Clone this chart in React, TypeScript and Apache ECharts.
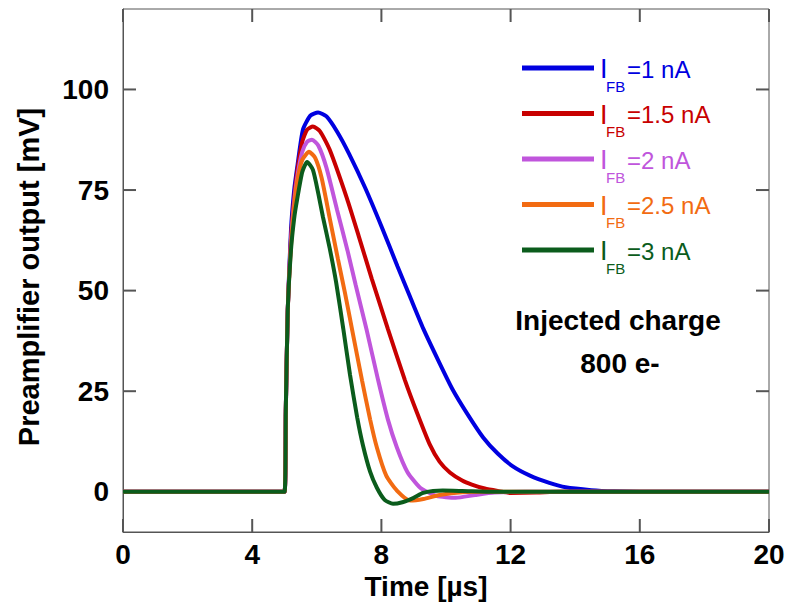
import React, { useEffect, useRef } from "react";
import * as echarts from "echarts";

// Time [µs], output [mV] pairs
const ifb1: [number, number][] = [
  [0, 0], [5.0, 0], [5.04, 20], [5.1, 45], [5.2, 65], [5.3, 75], [5.4, 81], [5.57, 90], [5.8, 93.5],
  [6.04, 94.3], [6.3, 93.3], [6.63, 89.5], [7.0, 84], [7.5, 75.5], [8.0, 66], [8.5, 56], [8.89, 48.4],
  [9.3, 40.5], [9.8, 32], [10.2, 25.5], [10.65, 19.5], [11.15, 13.5], [11.6, 9.5], [12.07, 6.3],
  [12.6, 4], [13.2, 2.2], [13.7, 1.1], [14.5, 0.4], [15.2, 0.1], [16, 0], [20, 0],
];
const ifb15: [number, number][] = [
  [0, 0], [5.0, 0], [5.04, 20], [5.1, 45], [5.2, 63], [5.3, 73], [5.4, 80], [5.55, 87], [5.7, 90],
  [5.88, 90.8], [6.1, 89.6], [6.4, 85], [6.93, 73], [7.3, 63.5], [7.7, 53], [8.2, 40.5], [8.73, 27.7],
  [9.1, 19.7], [9.5, 11.7], [9.8, 7.5], [10.12, 4.8], [10.5, 2.8], [10.8, 1.8], [11.2, 0.8],
  [11.6, 0.2], [12, -0.3], [12.8, -0.2], [13.5, 0], [20, 0],
];
const ifb2: [number, number][] = [
  [0, 0], [5.0, 0], [5.04, 20], [5.1, 45], [5.2, 62], [5.3, 72], [5.4, 78.5], [5.55, 84.5], [5.7, 87],
  [5.85, 87.5], [6.05, 86], [6.3, 80.5], [6.63, 70], [6.95, 60], [7.2, 51.5], [7.55, 40], [7.9, 27.7],
  [8.2, 18], [8.48, 11], [8.8, 5], [9.2, 1], [9.7, -1], [10.3, -1.5], [10.9, -0.8], [11.5, -0.2],
  [12.5, 0], [20, 0],
];
const ifb25: [number, number][] = [
  [0, 0], [5.0, 0], [5.04, 20], [5.1, 45], [5.2, 61], [5.3, 71], [5.4, 77.5], [5.55, 82.5], [5.76, 84.5],
  [5.95, 83], [6.15, 78], [6.41, 67.6], [6.65, 58], [6.87, 49.5], [7.1, 40], [7.4, 27.7], [7.65, 18],
  [7.86, 11], [8.15, 4], [8.48, 0.3], [8.89, -2.2], [9.3, -1.8], [9.8, -0.8], [10.5, -0.1], [11.2, 0],
  [20, 0],
];
const ifb3: [number, number][] = [
  [0, 0], [5.0, 0], [5.04, 20], [5.1, 45], [5.2, 60], [5.3, 68], [5.39, 72.6], [5.55, 79.5], [5.7, 82],
  [5.88, 80], [6.05, 74], [6.19, 68.3], [6.4, 60.5], [6.6, 52], [6.82, 40.5], [7.03, 29], [7.25, 18.5],
  [7.43, 11.5], [7.65, 5], [7.86, 1], [8.1, -2], [8.36, -3], [8.65, -2.6], [9.0, -1.5], [9.29, -0.3],
  [9.6, 0.2], [9.9, 0.3], [10.5, 0.2], [11.5, 0], [20, 0],
];

const seriesNames = ["IFB=1 nA", "IFB=1.5 nA", "IFB=2 nA", "IFB=2.5 nA", "IFB=3 nA"];
const legendValues = ["=1 nA", "=1.5 nA", "=2 nA", "=2.5 nA", "=3 nA"];
const seriesData = [ifb1, ifb15, ifb2, ifb25, ifb3];
const colors = ["#0000e0", "#c80000", "#c055dc", "#f26b12", "#0b5c1c"];
const xTicks = [0, 4, 8, 12, 16, 20];
const yTicks = [0, 25, 50, 75, 100];
const X_MIN = 0;
const X_MAX = 20;
const X_STEP = 4;
const Y_MIN = -10;
const Y_MAX = 120;

const FONT = "'Liberation Sans', Arial, Helvetica, sans-serif";
const AXIS_COLOR = "#555555";

export default function App() {
  const ref = useRef<HTMLDivElement>(null);
  useEffect(() => {
    if (!ref.current) return;
    const chart = echarts.init(ref.current, null, { renderer: "svg" });

    const legendGraphics: any[] = [];
    const y0 = 68;
    const step = 45.5;
    legendValues.forEach((v, i) => {
      const y = y0 + i * step;
      legendGraphics.push({
        type: "line",
        shape: { x1: 522, y1: y, x2: 594, y2: y },
        style: { stroke: colors[i], lineWidth: 5 },
      });
      legendGraphics.push({
        type: "text",
        x: 600,
        y: y + 1,
        style: { text: "I", font: `27px ${FONT}`, fill: colors[i], align: "left", verticalAlign: "middle" },
      });
      legendGraphics.push({
        type: "text",
        x: 606,
        y: y + 18,
        style: { text: "FB", font: `15px ${FONT}`, fill: colors[i], align: "left", verticalAlign: "middle" },
      });
      legendGraphics.push({
        type: "text",
        x: 627,
        y: y + 1,
        style: { text: v, font: `24px ${FONT}`, fill: colors[i], align: "left", verticalAlign: "middle" },
      });
    });

    const textGraphics: any[] = [
      {
        type: "text",
        x: 618,
        y: 320,
        style: { text: "Injected charge", font: `bold 28px ${FONT}`, fill: "#000", align: "center", verticalAlign: "middle" },
      },
      {
        type: "text",
        x: 620,
        y: 363,
        style: { text: "800 e-", font: `bold 28px ${FONT}`, fill: "#000", align: "center", verticalAlign: "middle" },
      },
      {
        type: "text",
        x: 426,
        y: 586,
        style: { text: "Time [µs]", font: `bold 28px ${FONT}`, fill: "#000", align: "center", verticalAlign: "middle" },
      },
      {
        type: "text",
        x: 29,
        y: 277,
        rotation: Math.PI / 2,
        style: {
          text: "Preamplifier output [mV]",
          font: `bold 29px ${FONT}`,
          fill: "#000",
          align: "center",
          verticalAlign: "middle",
        },
      },
    ];

    const line = { show: true, onZero: false, lineStyle: { color: AXIS_COLOR, width: 1 } };
    const labelStyle = { color: "#000", fontSize: 28, fontWeight: "bold", fontFamily: FONT };

    const option: any = {
      animation: false,
      grid: { left: 123, right: 19, top: 9, bottom: 73, show: true, borderColor: AXIS_COLOR },
      xAxis: [
        {
          type: "value",
          min: X_MIN,
          max: X_MAX,
          interval: X_STEP,
          position: "bottom",
          axisLine: line,
          axisTick: { show: false },
          axisLabel: { show: true, margin: 8, ...labelStyle },
          splitLine: { show: false },
        },
      ],
      yAxis: [
        {
          type: "value",
          min: Y_MIN,
          max: Y_MAX,
          position: "left",
          axisLine: line,
          axisTick: { show: false },
          axisLabel: { show: true, margin: 14, ...labelStyle, customValues: yTicks, padding: [0, 0, 6, 0] },
          splitLine: { show: false },
        },
      ],
      series: seriesData.map((d, i) => ({
        name: seriesNames[i],
        type: "line",
        data: d,
        showSymbol: false,
        symbol: "none",
        smooth: 0.2,
        lineStyle: { color: colors[i], width: 4 },
        itemStyle: { color: colors[i] },
      })),
    };
    chart.setOption(option);

    // Inside tick marks on all four sides, placed through the chart's own scales
    const TL = 13;
    const toX = (v: number) => Number(chart.convertToPixel({ xAxisIndex: 0 }, v));
    const toY = (v: number) => Number(chart.convertToPixel({ yAxisIndex: 0 }, v));
    const left = toX(X_MIN);
    const right = toX(X_MAX);
    const top = toY(Y_MAX);
    const bottom = toY(Y_MIN);
    const tickEls: any[] = [];
    xTicks.forEach((t) => {
      const px = toX(t);
      tickEls.push({ type: "line", shape: { x1: px, y1: bottom, x2: px, y2: bottom - TL }, style: { stroke: AXIS_COLOR, lineWidth: 2 } });
      tickEls.push({ type: "line", shape: { x1: px, y1: top, x2: px, y2: top + TL }, style: { stroke: AXIS_COLOR, lineWidth: 2 } });
    });
    yTicks.forEach((v) => {
      const py = toY(v);
      tickEls.push({ type: "line", shape: { x1: left, y1: py, x2: left + TL, y2: py }, style: { stroke: AXIS_COLOR, lineWidth: 2 } });
      tickEls.push({ type: "line", shape: { x1: right, y1: py, x2: right - TL, y2: py }, style: { stroke: AXIS_COLOR, lineWidth: 2 } });
    });
    chart.setOption({ graphic: [...tickEls, ...legendGraphics, ...textGraphics] });

    return () => chart.dispose();
  }, []);
  return <div ref={ref} style={{ width: 788, height: 605, position: "absolute", left: 0, top: 0 }} />;
}
